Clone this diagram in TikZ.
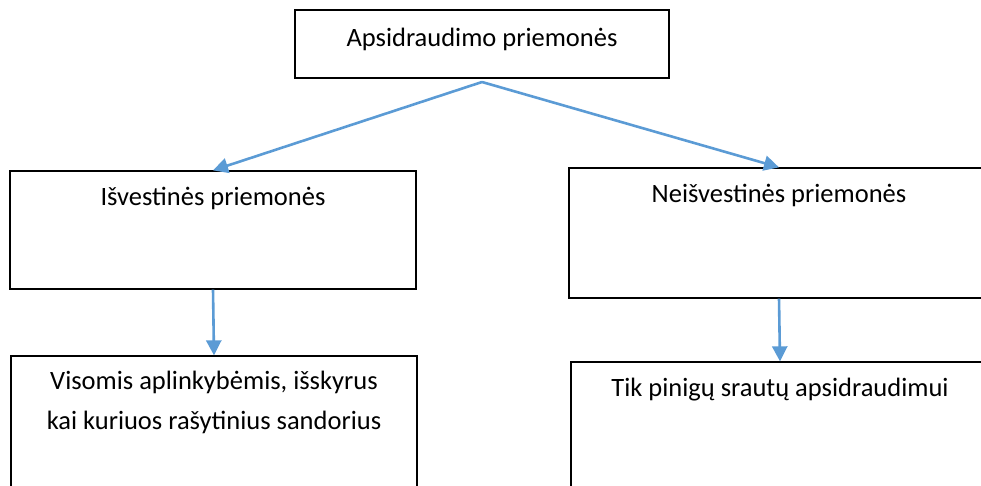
\documentclass[tikz,border=0pt]{standalone}
\usepackage{fontspec}
\setmainfont{Carlito}
\usepackage{xcolor}
\usetikzlibrary{arrows.meta,positioning,calc}
\definecolor{linkblue}{HTML}{5B9BD5}

\begin{document}
\begin{tikzpicture}[
    x=1pt, y=-1pt,
    font=\fontsize{26.5}{37}\selectfont,
    box/.style={rectangle, draw, line width=1.3pt, inner sep=0pt},
    txt/.style={inner sep=0pt, align=center, anchor=north},
    arrow/.style={-{Triangle[length=15pt, width=15pt]}, line width=2.6pt, linkblue}
]
    \useasboundingbox (0,0) rectangle (981,485);
    \clip (0,0) rectangle (981,485);

    \node[box, minimum width=374pt, minimum height=68pt] (hedge) at (482,44) {};
    \node[txt, below=19pt of hedge.north] (hedgetxt) {Apsidraudimo priemonės};
    \coordinate (split) at (482,82);

    % Middle row
    \node[box, minimum width=406pt, minimum height=118pt] (deriv) at (213,230) {};
    \node[txt, below=17pt of deriv.north] (derivtxt) {Išvestinės priemonės};
    \node[box, minimum width=420pt, minimum height=130pt] (nonderiv) at (779,233) {};
    \node[txt, below=17pt of nonderiv.north] (nonderivtxt) {Neišvestinės priemonės};

    % Bottom row
    \node[box, minimum width=406pt, minimum height=160pt] (all) at (214,436) {};
    \node[txt, below=16pt of all.north] (alltxt) {Visomis aplinkybėmis, išskyrus\\[3pt]kai kuriuos rašytinius sandorius};
    \node[box, minimum width=418pt, minimum height=160pt] (cash) at (780,442) {};
    \node[txt, below=17pt of cash.north] (cashtxt) {Tik pinigų srautų apsidraudimui};

    \draw[arrow] (split) -- (deriv.north);
    \draw[arrow] (split) -- (nonderiv.north);
    \draw[arrow] (deriv.south) -- (all.north);
    \draw[arrow] (nonderiv.south) -- (cash.north);
\end{tikzpicture}
\end{document}
